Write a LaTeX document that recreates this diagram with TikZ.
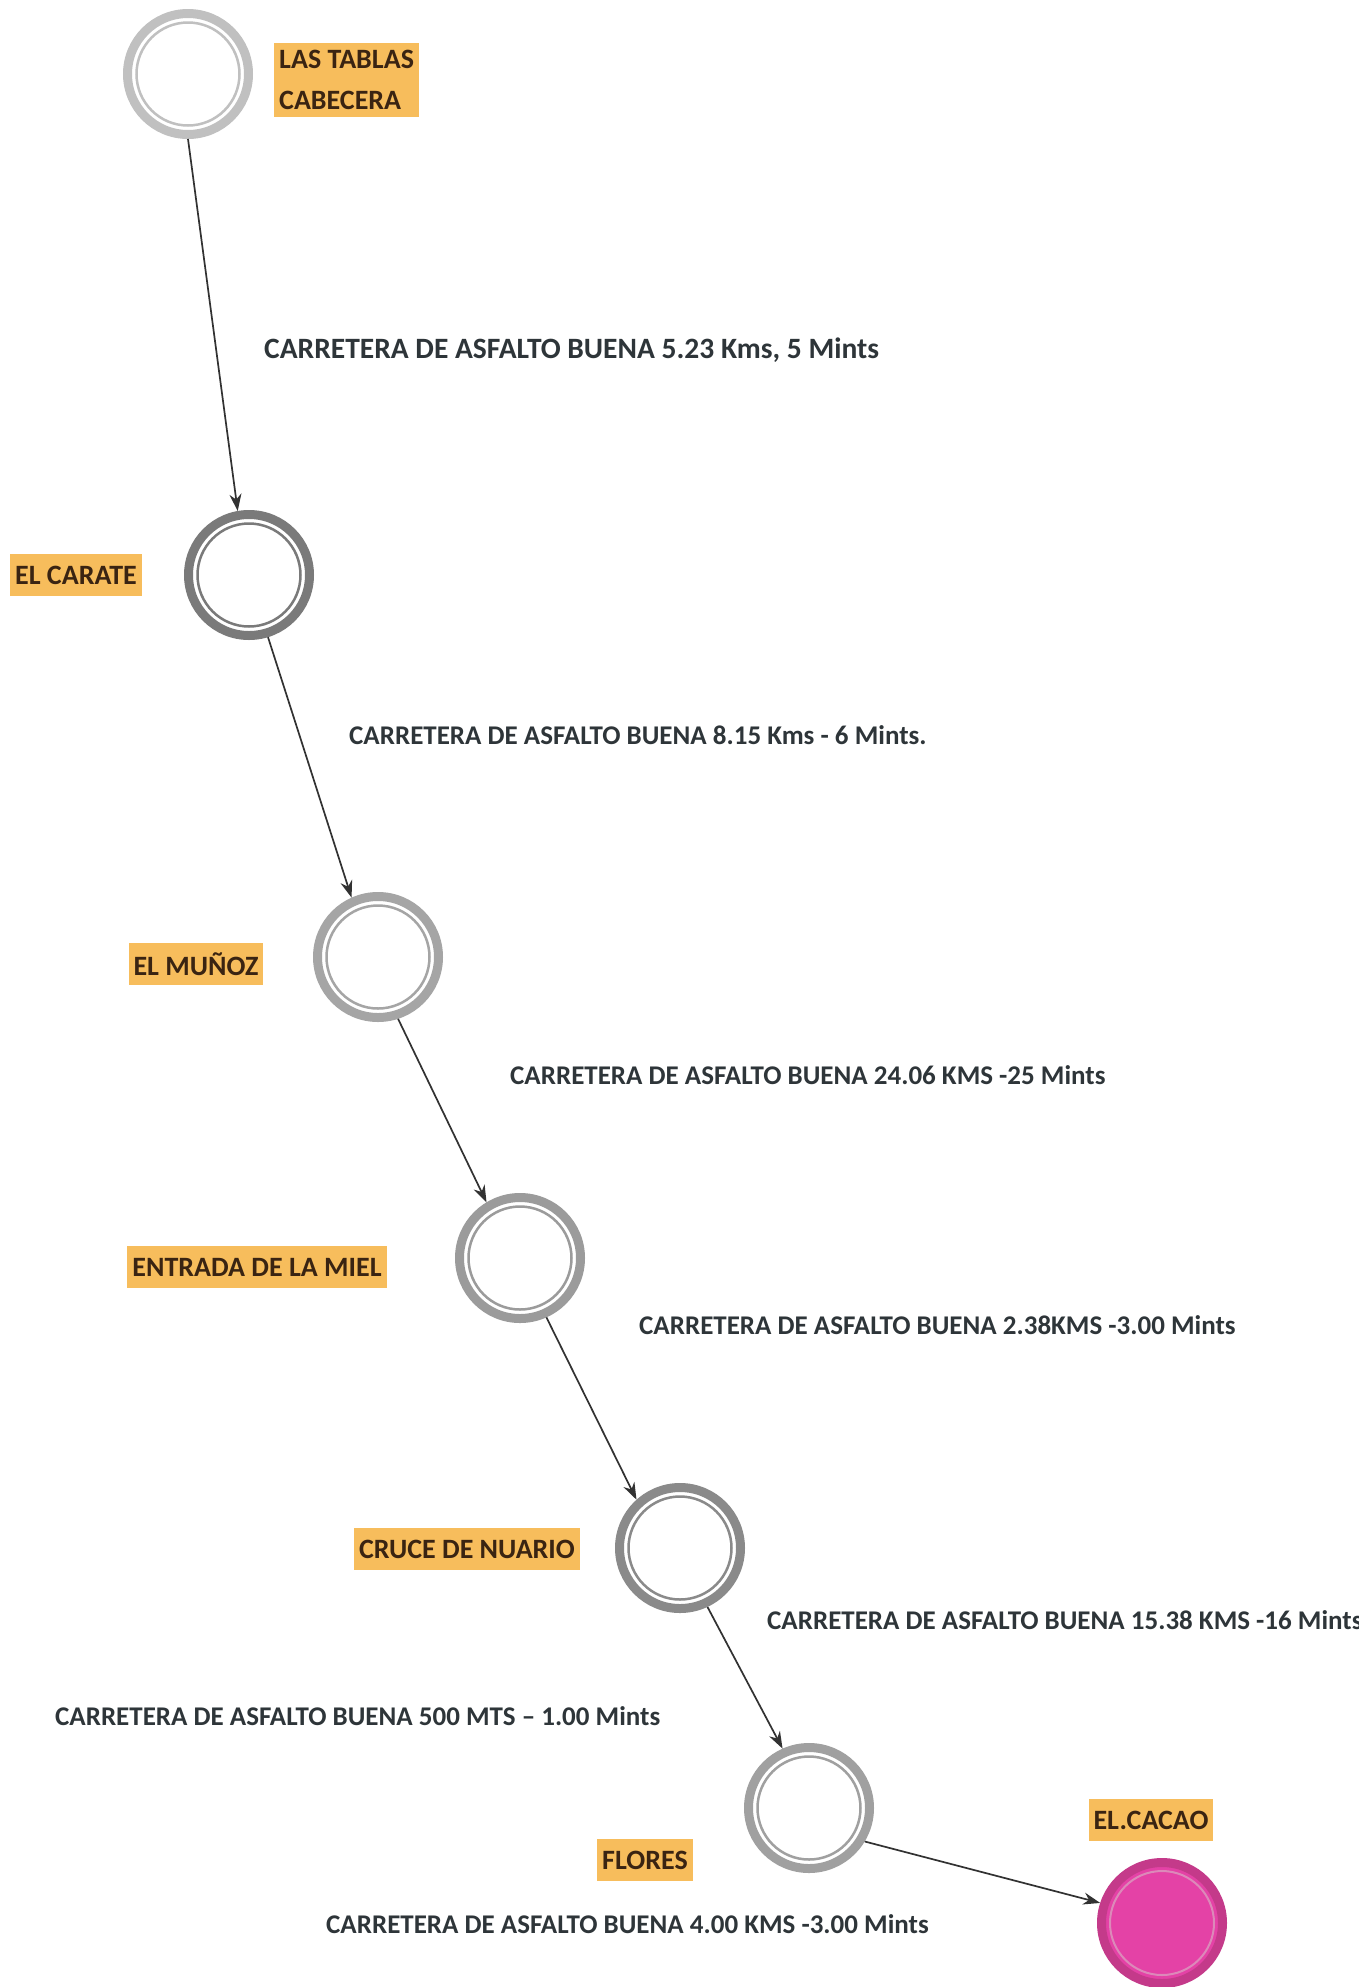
\documentclass[tikz,border=0pt]{standalone}
\usepackage{fontspec}
\setmainfont{Carlito}
\usetikzlibrary{arrows.meta}
\definecolor{hl}{RGB}{247,189,92}
\definecolor{lbl}{RGB}{58,36,18}
\definecolor{txt}{RGB}{46,53,57}
\definecolor{edgec}{RGB}{50,50,50}
\definecolor{pinkfill}{RGB}{228,66,166}
\definecolor{pinkring}{RGB}{196,58,138}
\definecolor{ringA}{RGB}{192,192,192}
\definecolor{ringB}{RGB}{122,122,122}
\definecolor{ringC}{RGB}{165,165,165}
\definecolor{ringD}{RGB}{155,155,155}
\definecolor{ringE}{RGB}{138,138,138}
\definecolor{ringF}{RGB}{160,160,160}
\tikzset{
  stop/.style={circle, minimum size=121pt, inner sep=0pt, line width=9pt, draw=#1, fill=white,
    path picture={\draw[#1, line width=2.5pt] (path picture bounding box.center) circle (51.5pt);}},
  endstop/.style={circle, minimum size=121pt, inner sep=0pt, line width=9pt, draw=pinkring, fill=pinkfill,
    path picture={\draw[pinkring!60!white, line width=2pt] (path picture bounding box.center) circle (52pt);}},
  hlbox/.style={fill=hl, text=lbl, font=\bfseries\fontsize{28}{41}\selectfont, inner xsep=5pt,
    minimum height=42pt, text depth=0pt, align=left},
  elabel/.style={text=txt, font=\bfseries\fontsize{27}{34}\selectfont, anchor=west, inner sep=0pt},
  link/.style={draw=edgec, line width=1.7pt, -{Stealth[length=17pt,width=12pt]}}
}
\begin{document}
\begin{tikzpicture}[x=1pt, y=-1pt]
\useasboundingbox (0,0) rectangle (1359,1987);
\fill[white] (0,0) rectangle (1359,1987);

% stops
\node[stop=ringA] (n1) at (188,74) {};
\node[stop=ringB] (n2) at (249,575) {};
\node[stop=ringC] (n3) at (378,957) {};
\node[stop=ringD] (n4) at (520,1258) {};
\node[stop=ringE] (n5) at (680,1548) {};
\node[stop=ringF] (n6) at (809,1808) {};
\node[endstop] (n7) at (1162,1923) {};

% place labels
\node[hlbox, anchor=west, minimum height=74pt] (l1) at (274,80) {LAS TABLAS\\CABECERA};
\node[hlbox] (l2) at (76,575) {EL CARATE};
\node[hlbox] (l3) at (196,964) {EL MUÑOZ};
\node[hlbox] (l4) at (257,1267) {ENTRADA DE LA MIEL};
\node[hlbox] (l5) at (467,1549) {CRUCE DE NUARIO};
\node[hlbox] (l6) at (645,1860) {FLORES};
\node[hlbox] (l7) at (1151,1820) {EL.CACAO};

% connectors
\draw[link] (n1.south) -- (n2.100);
\draw[link] (n2.-73) -- (n3.114);
\draw[link] (n3.-72) -- (n4.121);
\draw[link] (n4.-66) -- (n5.132);
\draw[link] (n5.-65) -- (n6.114);
\draw[link] (n6.-31) -- (n7.162);

% road labels
\node[elabel, font=\bfseries\fontsize{29.5}{34}\selectfont] (e1) at (264,350) {CARRETERA DE ASFALTO BUENA 5.23 Kms, 5 Mints};
\node[elabel] (e2) at (349,735) {CARRETERA DE ASFALTO BUENA 8.15 Kms - 6 Mints.};
\node[elabel] (e3) at (510,1075) {CARRETERA DE ASFALTO BUENA 24.06 KMS -25 Mints};
\node[elabel] (e4) at (639,1325) {CARRETERA DE ASFALTO BUENA 2.38KMS -3.00 Mints};
\node[elabel] (e5) at (767,1620) {CARRETERA DE ASFALTO BUENA 15.38 KMS -16 Mints};
\node[elabel] (e6) at (55,1716) {CARRETERA DE ASFALTO BUENA 500 MTS -- 1.00 Mints};
\node[elabel] (e7) at (326,1924) {CARRETERA DE ASFALTO BUENA 4.00 KMS -3.00 Mints};
\end{tikzpicture}
\end{document}
